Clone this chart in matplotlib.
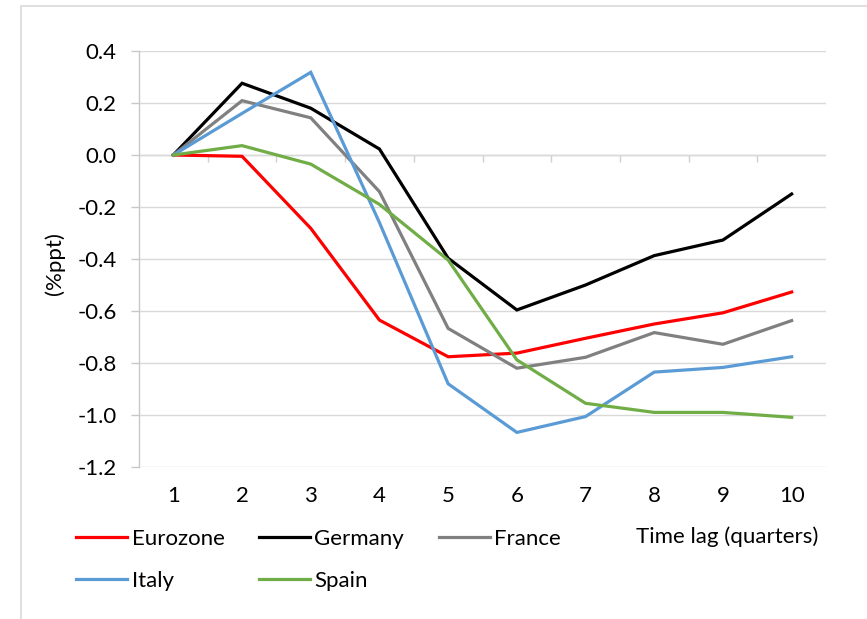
import matplotlib
matplotlib.use("Agg")
import matplotlib.pyplot as plt
from matplotlib.patches import Rectangle

plt.rcParams['font.family'] = ['Lato', 'DejaVu Sans']

lags = [1, 2, 3, 4, 5, 6, 7, 8, 9, 10]
eurozone = [0.0, -0.005, -0.282, -0.635, -0.776, -0.762, -0.705, -0.650, -0.607, -0.527]
germany = [0.0, 0.276, 0.180, 0.023, -0.397, -0.596, -0.500, -0.387, -0.327, -0.150]
france = [0.0, 0.209, 0.143, -0.141, -0.667, -0.820, -0.778, -0.683, -0.728, -0.637]
italy = [0.0, 0.160, 0.318, -0.260, -0.880, -1.067, -1.006, -0.835, -0.817, -0.776]
spain = [0.0, 0.036, -0.035, -0.190, -0.404, -0.788, -0.955, -0.990, -0.990, -1.009]

series = [
    ("Eurozone", eurozone, "#FF0000"),
    ("Germany", germany, "#000000"),
    ("France", france, "#808080"),
    ("Italy", italy, "#5B9BD5"),
    ("Spain", spain, "#70AD47"),
]

fs = 16

fig = plt.figure(figsize=(8.67, 6.19), dpi=100)
# chart border like the Excel chart area
fig.patches.append(Rectangle((21 / 867, -0.1), 1.2, 1 - 6 / 619 + 0.1,
                             transform=fig.transFigure, fill=False,
                             edgecolor="#D9D9D9", linewidth=1.2))

ax = fig.add_axes([139 / 867, 1 - 467 / 619, 687 / 867, 416 / 619])

handles = {}
for name, vals, col in series:
    ln, = ax.plot(lags, vals, color=col, linewidth=2.3, label=name,
                  solid_joinstyle="miter", zorder=3)
    handles[name] = ln

ax.set_xlim(0.5, 10.5)
ax.set_ylim(-1.2, 0.4)
ax.set_yticks([0.4, 0.2, 0.0, -0.2, -0.4, -0.6, -0.8, -1.0, -1.2])
ax.set_yticklabels([f"{v:.1f}" for v in ax.get_yticks()])
ax.set_xticks(lags)
ax.set_xticklabels([str(v) for v in lags])

ax.grid(axis="y", color="#D9D9D9", linewidth=1.0, zorder=0)
for s in ["top", "right", "bottom"]:
    ax.spines[s].set_visible(False)
ax.spines["left"].set_color("#C8C8C8")
ax.spines["left"].set_linewidth(1.0)

ax.tick_params(axis="y", length=6, color="#C8C8C8", width=1.0, pad=10,
               labelsize=fs, labelcolor="black")
ax.tick_params(axis="x", length=0, pad=14, labelsize=fs)

# category axis sits on zero line, ticks between categories
ax.axhline(0, color="#D0D0D0", linewidth=1.0, zorder=1)
ax.vlines([x + 0.5 for x in lags[:-1]], -0.025, 0, color="#D0D0D0",
          linewidth=1.0, zorder=1)

ax.set_ylabel("(%ppt)", fontsize=fs)
ax.yaxis.set_label_coords(-0.107, 0.49)

# legend filled column by column, so order to read row-wise
order = ["Eurozone", "Italy", "Germany", "Spain", "France"]
fig.legend([handles[n] for n in order], order,
           loc="upper left", bbox_to_anchor=(76 / 867, 1 - 529 / 619),
           ncol=3, frameon=False, fontsize=fs, handlelength=2.3,
           handletextpad=0.2, columnspacing=1.55, labelspacing=0.97,
           borderpad=0, borderaxespad=0)

fig.text(636 / 867, 1 - 537 / 619, "Time lag (quarters)", fontsize=fs,
         ha="left", va="center")

fig.savefig("out.png", dpi=100)
